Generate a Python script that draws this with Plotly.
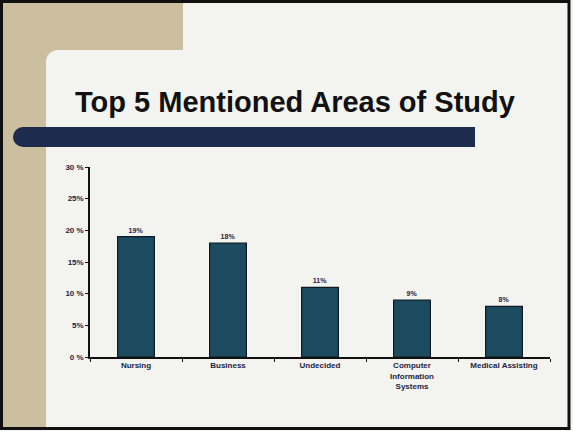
import plotly.graph_objects as go

categories = ["Nursing", "Business", "Undecided", "Computer<br>Information<br>Systems", "Medical Assisting"]
values = [19, 18, 11, 9, 8]
value_labels = ["19%", "18%", "11%", "9%", "8%"]
y_ticks = [0, 5, 10, 15, 20, 25, 30]
y_tick_labels = ["0 %", "5%", "10 %", "15%", "20 %", "25%", "30 %"]

W, H = 573, 431
L, R, T, B = 90, 23, 167, 74
PW, PH = W - L - R, H - T - B

def px(x):
    return (x - L) / PW

def py(y):
    return 1 - (y - T) / PH

beige = "#cbbf9f"
slide = "#f3f3ef"
navy = "#1d2b4f"
bar_col = "#1c4a5f"
txt = "#1b1f45"

shapes = []
def rect(x0, y0, x1, y1, color):
    shapes.append(dict(type="rect", xref="paper", yref="paper",
                       x0=px(x0), x1=px(x1), y0=py(y1), y1=py(y0),
                       fillcolor=color, line=dict(width=0), layer="below"))

# slide decoration
rect(3, 3, 183, 50, beige)
rect(3, 3, 46, 428, beige)
rect(46, 50, 58, 62, beige)
shapes.append(dict(type="circle", xref="paper", yref="paper",
                   x0=px(46), x1=px(70), y0=py(74), y1=py(50),
                   fillcolor=slide, line=dict(width=0), layer="below"))
# navy bar with rounded left end
rect(23, 127, 475, 147, navy)
shapes.append(dict(type="circle", xref="paper", yref="paper",
                   x0=px(13), x1=px(33), y0=py(147), y1=py(127),
                   fillcolor=navy, line=dict(width=0), layer="below"))
# frame
shapes.append(dict(type="rect", xref="paper", yref="paper",
                   x0=px(1.5), x1=px(569), y0=py(428.5), y1=py(1.5),
                   line=dict(color="#111111", width=3), fillcolor="rgba(0,0,0,0)",
                   layer="above"))

fig = go.Figure()
fig.add_trace(go.Bar(
    x=categories, y=values, width=0.4,
    marker=dict(color=bar_col, line=dict(color="#0b1a22", width=1.2)),
    text=value_labels, textposition="outside", cliponaxis=False,
    textfont=dict(family="Liberation Sans", size=7, color=txt, weight="bold"),
))

fig.add_annotation(text="<b>Top 5 Mentioned Areas of Study</b>",
                   xref="paper", yref="paper", x=px(295), y=py(102),
                   showarrow=False, font=dict(family="Liberation Sans", size=29, color="#111111"),
                   xanchor="center", yanchor="middle")

fig.update_layout(
    width=W, height=H, autosize=False,
    margin=dict(l=L, r=R, t=T, b=B, pad=0),
    paper_bgcolor=slide, plot_bgcolor="rgba(0,0,0,0)",
    showlegend=False, shapes=shapes, bargap=0.6,
)
fig.update_xaxes(
    showline=True, linecolor="#111111", linewidth=1.5,
    ticks="outside", tickson="boundaries", ticklen=3, tickcolor="#111111",
    tickfont=dict(family="Liberation Sans", size=8, color=txt, weight="bold"),
    showgrid=False, zeroline=False,
)
fig.update_yaxes(
    range=[0, 30], tickvals=y_ticks, ticktext=y_tick_labels,
    showline=True, linecolor="#111111", linewidth=1.5,
    ticks="outside", ticklen=3, tickcolor="#111111",
    tickfont=dict(family="Liberation Sans", size=8, color=txt, weight="bold"),
    showgrid=False, zeroline=False,
)

fig.write_html("out.html", config={"displayModeBar": False},
               post_script="document.body.style.margin='0px';")
